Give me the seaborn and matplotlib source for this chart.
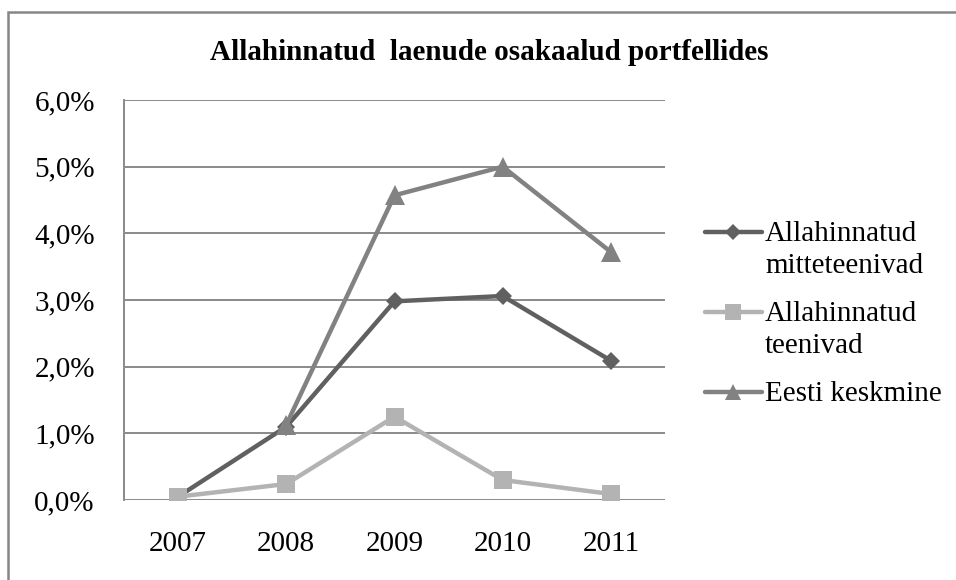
import matplotlib
matplotlib.use("Agg")
import matplotlib.pyplot as plt
import seaborn as sns
import numpy as np
import pandas as pd
from matplotlib.lines import Line2D
from matplotlib.ticker import FuncFormatter

years = [2007, 2008, 2009, 2010, 2011]
mitteteenivad = [0.05, 1.10, 2.98, 3.06, 2.09]
teenivad = [0.05, 0.24, 1.25, 0.30, 0.09]
eesti_keskmine = [np.nan, 1.13, 4.57, 5.00, 3.72]

series_names = ["Allahinnatud\nmitteteenivad", "Allahinnatud\nteenivad", "Eesti keskmine"]
series_values = [mitteteenivad, teenivad, eesti_keskmine]
colors = ["#606060", "#b3b3b3", "#828282"]
markers = ["D", "s", "^"]
msizes = [9, 13, 14]
title = "Allahinnatud  laenude osakaalud portfellides"
yticks = [0, 1, 2, 3, 4, 5, 6]

sns.set_theme(style="white")
plt.rcParams["font.family"] = ["Liberation Serif", "DejaVu Serif"]

fig = plt.figure(figsize=(9.56, 5.8), dpi=100)
W, H = 956, 580
ax = fig.add_axes([124 / W, 1 - 500 / H, (665 - 124) / W, 400 / H])

for name, vals, c, m, ms in zip(series_names, series_values, colors, markers, msizes):
    d = pd.DataFrame({"year": years, "value": vals}).dropna()
    sns.lineplot(data=d, x="year", y="value", ax=ax, color=c, linewidth=3.2,
                 marker=m, markersize=ms, markeredgewidth=0, legend=False, zorder=3)

ax.set_xlim(2006.5, 2011.5)
ax.set_ylim(0, 6)
ax.set_yticks(yticks)
ax.set_xticks(years)
ax.set_xticklabels([str(y) for y in years])
ax.yaxis.set_major_formatter(FuncFormatter(lambda v, p: f"{v:.1f}%".replace(".", ",")))
ax.grid(axis="y", color="#8a8a8a", linewidth=1.4)
ax.grid(axis="x", visible=False)
ax.set_axisbelow(True)
for s in ["top", "right", "bottom"]:
    ax.spines[s].set_visible(False)
ax.spines["left"].set_color("#8a8a8a")
ax.spines["left"].set_linewidth(1.4)
ax.tick_params(axis="y", length=0, pad=21, labelsize=21, labelcolor="black")
ax.tick_params(axis="x", length=0, pad=22, labelsize=21, labelcolor="black")
ax.set_xlabel("")
ax.set_ylabel("")

fig.text(489 / W, 1 - 53 / H, title, ha="center", va="center", fontsize=21,
         fontweight="bold", color="black")

# outer chart border (only left and top edges are visible)
bx, by = 8 / W, 1 - 12 / H
fig.add_artist(Line2D([bx, bx, 1.01], [-0.01, by, by], transform=fig.transFigure,
                      color="#868686", linewidth=1.8, solid_joinstyle="miter"))

# legend (Excel style: handle on first text line); baseline = last text line
leg_line_y = [232, 312, 392]
leg_base_y = [273, 353, 401]
for name, c, m, ms, ly, by_ in zip(series_names, colors, markers, msizes, leg_line_y, leg_base_y):
    yf = 1 - ly / H
    fig.add_artist(Line2D([705 / W, 762 / W], [yf, yf], transform=fig.transFigure,
                          color=c, linewidth=3.2))
    fig.add_artist(Line2D([733 / W], [yf], transform=fig.transFigure, color=c,
                          marker=m, markersize=ms * 0.85, markeredgewidth=0, linestyle="none"))
    fig.text(765 / W, 1 - by_ / H, name, ha="left", va="baseline", fontsize=21,
             color="black", linespacing=1.3, transform=fig.transFigure)

fig.savefig("out.png", dpi=100)
